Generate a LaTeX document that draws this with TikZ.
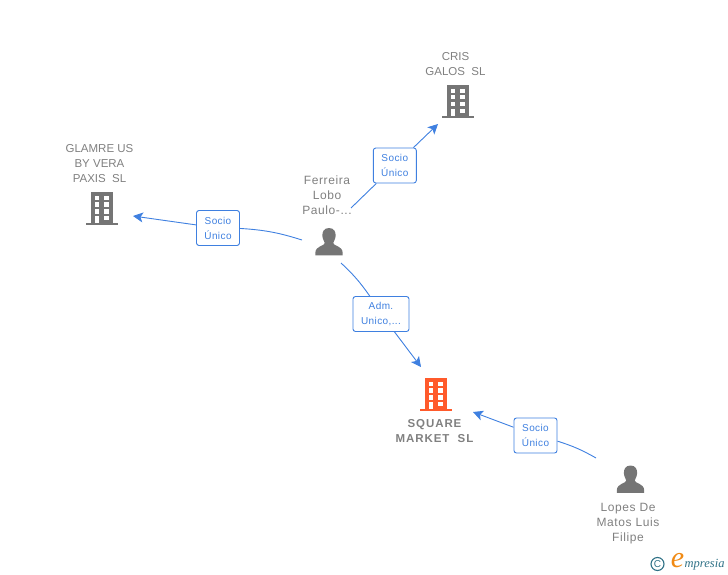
\documentclass[tikz,border=0pt]{standalone}
\usepackage{fontspec}
\setmainfont{Liberation Sans}
\newfontfamily\logofont{Liberation Serif}
\usetikzlibrary{arrows.meta}

\definecolor{linkblue}{HTML}{3F80E0}
\definecolor{icongray}{HTML}{757575}
\definecolor{textgray}{HTML}{808080}
\definecolor{mainorange}{HTML}{FF5A2B}
\definecolor{logoteal}{HTML}{2F7186}
\definecolor{logoorange}{HTML}{F08A14}

% building icon around a named node
\newcommand{\buildingicon}[2]{%
    \begin{scope}[shift={(#1)}]
        \fill[#2] (-10.7,-16.5) rectangle (10.7,14.5);
        \fill[#2] (-15.7,14.5) rectangle (15.7,16.8);
        \foreach \wy in {-12.5,-6.2,0.8} {
            \fill[white] (-7.3,\wy) rectangle +(4.4,4.2);
            \fill[white] (2.3,\wy) rectangle +(4.4,4.2);
        }
        \fill[white] (-7.3,7.2) rectangle (-2.9,14.5);
        \fill[white] (2.3,7.2) rectangle (6.7,11.2);
    \end{scope}
}
% person icon around a named node
\newcommand{\personicon}[1]{%
    \begin{scope}[shift={(#1)}]
        \fill[icongray] (0,-14) .. controls (5,-14) and (7,-10) .. (6.6,-6)
            .. controls (6.3,-2.5) and (4.6,-0.5) .. (4.2,1)
            .. controls (4.2,4) and (13.5,3.5) .. (13.7,11) -- (13.7,13.3) -- (-13.7,13.3) -- (-13.7,11)
            .. controls (-13.5,3.5) and (-4.2,4) .. (-4.2,1)
            .. controls (-4.6,-0.5) and (-6.3,-2.5) .. (-6.6,-6)
            .. controls (-7,-10) and (-5,-14) .. (0,-14) -- cycle;
    \end{scope}
}

\tikzset{
    iconbox/.style={minimum width=30,minimum height=34,inner sep=0},
    nametext/.style={text=textgray,font=\fontsize{11.5}{15}\selectfont,align=center,inner sep=0},
    persontext/.style={nametext,font=\fontsize{12}{15}\selectfont\addfontfeature{LetterSpace=5}},
    maintext/.style={nametext,font=\fontsize{11.5}{15}\selectfont\bfseries\addfontfeature{LetterSpace=8}},
    relbox/.style={draw=linkblue,fill=white,rounded corners=2.5,line width=0.9,text=linkblue,
        font=\fontsize{10}{15}\selectfont\addfontfeature{LetterSpace=4},align=center,inner sep=0,minimum height=35},
    link/.style={linkblue,line width=0.9},
    arrowtip/.style={-{Stealth[length=10,width=10,inset=2.5]}}
}

\begin{document}
\begin{tikzpicture}[x=1pt,y=-1pt]
    \useasboundingbox (0,0) rectangle (728,575);

    \node[iconbox] (cris) at (458,101.5) {};
    \node[iconbox] (glamre) at (102,208.5) {};
    \node[iconbox] (square) at (436,394.5) {};
    \node[iconbox] (ferreira) at (329,242) {};
    \node[iconbox] (lopes) at (630.5,479.5) {};

    \buildingicon{cris}{icongray}
    \buildingicon{glamre}{icongray}
    \buildingicon{square}{mainorange}
    \personicon{ferreira}
    \personicon{lopes}

    \node[nametext] (crisname) at (455.5,64) {CRIS\\GALOS\ \ SL};
    \node[nametext] (glamrename) at (99.5,164) {GLAMRE US\\BY VERA\\PAXIS\ \ SL};
    \node[maintext] (squarename) at (434.5,431) {SQUARE\\MARKET\ \ SL};
    \node[persontext] (ferreiraname) at (327,195) {Ferreira\\Lobo\\Paulo-...};
    \node[persontext] (lopesname) at (628,524) {Lopes De\\Matos Luis\\Filipe};

    \node[relbox,minimum width=43] (relcris) at (394.8,165.5) {Socio\\Único};
    \node[relbox,minimum width=43] (relglamre) at (218,228) {Socio\\Único};
    \node[relbox,minimum width=56] (reladm) at (381,314) {Adm.\\Unico,...};
    \node[relbox,minimum width=43] (relsquare) at (535.5,435.5) {Socio\\Único};

    % free ends of the connectors
    \coordinate (ferreiraNE) at (351,208);
    \coordinate (ferreiraW) at (302,240);
    \coordinate (ferreiraSE) at (341,263);
    \coordinate (lopesNW) at (596,458);
    \coordinate (crisTip) at (438,124);
    \coordinate (glamreTip) at (133,216);
    \coordinate (squareTop) at (421,367);
    \coordinate (squareRight) at (473,412);

    \draw[link] (ferreiraNE) -- (relcris);
    \draw[link,arrowtip] (relcris) -- (crisTip);

    \draw[link] (ferreiraW) to[bend right=7] (relglamre);
    \draw[link,arrowtip] (relglamre) -- (glamreTip);

    \draw[link] (ferreiraSE) to[bend left=6] (reladm);
    \draw[link,arrowtip] (reladm) -- (squareTop);

    \draw[link] (lopesNW) to[bend right=6] (relsquare);
    \draw[link,arrowtip] (relsquare) -- (squareRight);

    % logo
    \node[circle,draw=logoteal,line width=1.1,inner sep=0,minimum size=13,text=logoteal,
        font=\fontsize{10}{10}\selectfont] (copyicon) at (657.5,564) {C};
    \node[inner sep=0,text=logoorange,font=\logofont\fontsize{30}{30}\selectfont\itshape] (logoe) at (677.5,561) {e};
    \node[inner sep=0,text=logoteal,anchor=west,font=\logofont\fontsize{12.5}{13}\selectfont\itshape] (logotext) at (684.5,565) {mpresia};
\end{tikzpicture}
\end{document}
